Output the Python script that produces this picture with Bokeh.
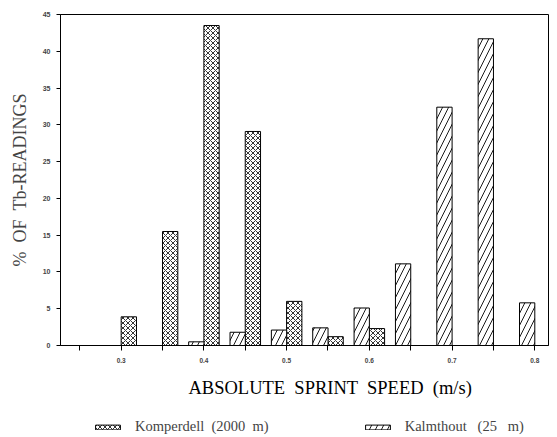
from bokeh.plotting import figure
from bokeh.layouts import column
from bokeh.models import ColumnDataSource, FixedTicker, Legend, LegendItem, Title
from bokeh.embed import file_html
from bokeh.resources import INLINE

# ---- data ----
bins = [0.30, 0.35, 0.40, 0.45, 0.50, 0.55, 0.60, 0.65, 0.70, 0.75, 0.80]
komperdell = [3.9, 15.5, 43.5, 29.1, 6.0, 1.2, 2.3, 0, 0, 0, 0]
kalmthout = [0, 0, 0.5, 1.8, 2.1, 2.4, 5.1, 11.1, 32.4, 41.7, 5.8]
x_ticks = [0.3, 0.4, 0.5, 0.6, 0.7, 0.8]
x_tick_labels = ["0.3", "0.4", "0.5", "0.6", "0.7", "0.8"]
x_minor_ticks = [0.25, 0.35, 0.45, 0.55, 0.65, 0.75, 0.85]
y_ticks = [0, 5, 10, 15, 20, 25, 30, 35, 40, 45]
series_names = ["Komperdell \u00a0(2000 \u00a0m)", "Kalmthout \u00a0\u00a0(25 \u00a0\u00a0m)"]
x_title = "ABSOLUTE \u00a0SPRINT \u00a0SPEED \u00a0(m/s)"
y_title = "% \u00a0OF \u00a0Tb-READINGS"

bar_w = 0.0185
off = 0.0092

src_k = ColumnDataSource(dict(
    x=[b + off for b, v in zip(bins, komperdell) if v > 0],
    top=[v for v in komperdell if v > 0]))
src_c = ColumnDataSource(dict(
    x=[b - off for b, v in zip(bins, kalmthout) if v > 0],
    top=[v for v in kalmthout if v > 0]))

k_style = dict(fill_color="white", line_color="black", line_width=1,
               hatch_pattern="x", hatch_color="black", hatch_scale=5,
               hatch_weight=0.8)
c_style = dict(fill_color="white", line_color="black", line_width=1,
               hatch_pattern="/", hatch_color="black", hatch_scale=12,
               hatch_weight=0.9)

p = figure(width=549, height=408, x_range=(0.2266, 0.8166), y_range=(0, 45),
           output_backend="svg", toolbar_location=None,
           min_border_left=60, min_border_right=1, min_border_top=14,
           min_border_bottom=62)
p.background_fill_color = "white"
p.border_fill_color = "white"
p.outline_line_color = "black"
p.outline_line_width = 1
p.xgrid.visible = False
p.ygrid.visible = False

p.vbar(x="x", top="top", width=bar_w, bottom=0, source=src_k, **k_style)
p.vbar(x="x", top="top", width=bar_w, bottom=0, source=src_c, **c_style)

# x axis
xa = p.xaxis[0]
xa.ticker = FixedTicker(ticks=x_ticks, minor_ticks=x_minor_ticks)
xa.major_label_overrides = dict(zip(x_ticks, x_tick_labels))
xa.major_tick_out = 5
xa.major_tick_in = 0
xa.minor_tick_out = 5
xa.minor_tick_in = 0
xa.minor_tick_line_color = "black"
xa.major_label_standoff = 7
xa.major_label_text_font = "Liberation Sans"
xa.major_label_text_font_size = "6.5px"
xa.major_label_text_font_style = "bold"
xa.axis_line_color = "black"

x_lab = Title(text=x_title, align="left", offset=128, standoff=21,
              text_font="Liberation Serif", text_font_style="normal",
              text_font_size="18.5px", text_color="black")
p.add_layout(x_lab, "below")

# y axis
ya = p.yaxis[0]
ya.ticker = FixedTicker(ticks=y_ticks, minor_ticks=[])
ya.major_tick_out = 4
ya.major_tick_in = 0
ya.major_label_standoff = 6
ya.major_label_text_font = "Liberation Sans"
ya.major_label_text_font_size = "7px"
ya.major_label_text_font_style = "bold"
ya.axis_label = y_title
ya.axis_label_text_font = "Liberation Serif"
ya.axis_label_text_font_style = "normal"
ya.axis_label_text_font_size = "18px"
ya.axis_label_standoff = 10
ya.axis_line_color = "black"

# legend strip below the chart (frame aligned with the chart's frame)
lg = figure(width=549, height=28, output_backend="svg", toolbar_location=None,
            x_axis_location=None, y_axis_location=None,
            min_border_left=0, min_border_right=0, min_border_top=0,
            min_border_bottom=0)
lg.outline_line_color = None
lg.xgrid.visible = False
lg.ygrid.visible = False
lg.background_fill_color = "white"
lg.border_fill_color = "white"
d_k = lg.vbar(x="x", top="top", width=bar_w, source=src_k, visible=False, **k_style)
d_c = lg.vbar(x="x", top="top", width=bar_w, source=src_c, visible=False, **c_style)

legend = Legend(items=[LegendItem(label=series_names[0], renderers=[d_k]),
                       LegendItem(label=series_names[1], renderers=[d_c])],
                orientation="horizontal", location=(32, 1),
                border_line_color=None, background_fill_alpha=0,
                inactive_fill_alpha=0,
                label_text_font="Liberation Serif", label_text_font_size="14.5px",
                glyph_width=31, glyph_height=6, spacing=93, label_standoff=12,
                padding=0, margin=0)
lg.add_layout(legend)

layout = column(p, lg, spacing=0)
open("out.html", "w").write(file_html(layout, INLINE))
